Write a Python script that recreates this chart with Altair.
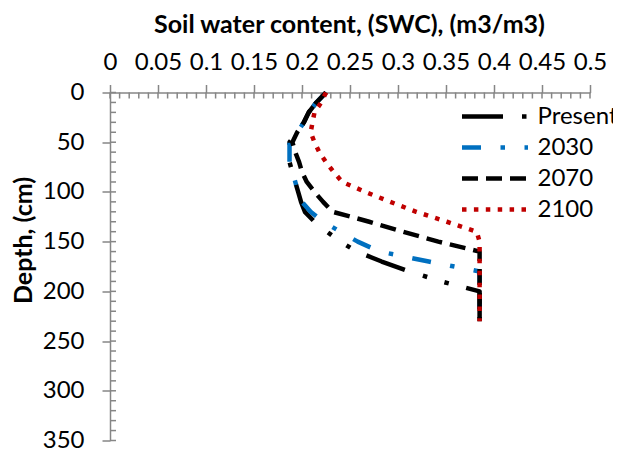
import altair as alt
import pandas as pd

# ---- data ----
depth = [0, 10, 20, 30, 40, 50, 60, 70, 80, 90, 100, 110, 120, 130, 140, 150,
         160, 170, 180, 190, 200, 210, 220, 230]

swc_present = [0.225, 0.215, 0.207, 0.202, 0.195, 0.187, 0.187, 0.187, 0.190, 0.193,
               0.196, 0.199, 0.203, 0.213, 0.226, 0.240, 0.257, 0.283, 0.312, 0.345,
               0.385, 0.385, 0.385, 0.385]
swc_2030 = [0.225, 0.215, 0.207, 0.202, 0.195, 0.187, 0.187, 0.187, 0.190, 0.193,
            0.196, 0.200, 0.209, 0.222, 0.240, 0.258, 0.281, 0.332, 0.385, 0.385,
            0.385, 0.385, 0.385, 0.385]
swc_2070 = [0.225, 0.215, 0.207, 0.202, 0.195, 0.190, 0.193, 0.197, 0.200, 0.205,
            0.213, 0.222, 0.232, 0.270, 0.305, 0.342, 0.385, 0.385, 0.385, 0.385,
            0.385, 0.385, 0.385, 0.385]
swc_2100 = [0.225, 0.220, 0.213, 0.211, 0.209, 0.213, 0.218, 0.225, 0.233, 0.242,
            0.266, 0.292, 0.319, 0.351, 0.382, 0.385, 0.385, 0.385, 0.385, 0.385,
            0.385, 0.385, 0.385, 0.385]

series_names = ["Present", "2030", "2070", "2100"]
series_values = [swc_present, swc_2030, swc_2070, swc_2100]
series_colors = ["#000000", "#0070C0", "#000000", "#C00000"]
series_dashes = [[41, 19, 4.5, 18, 4.5, 18], [19, 19.5, 4.5, 19.5], [16, 8], [4.5, 7.4]]

x_ticks = [0, 0.05, 0.1, 0.15, 0.2, 0.25, 0.3, 0.35, 0.4, 0.45, 0.5]
y_ticks = [0, 50, 100, 150, 200, 250, 300, 350]
x_minor = [round(i * 0.01, 2) for i in range(0, 51)]
y_minor = list(range(0, 351, 10))

rows = []
for name, vals in zip(series_names, series_values):
    for d, v in zip(depth, vals):
        rows.append({"series": name, "depth": d, "swc": v})
df = pd.DataFrame(rows)

FONT = "Lato"

xscale = alt.Scale(domain=[0, 0.5], nice=False, zero=False)
yscale = alt.Scale(domain=[0, 350], nice=False, zero=False, reverse=True)

legend = alt.Legend(
    orient="none", legendX=349.5, legendY=12, title=None,
    symbolType="stroke", symbolSize=4356, symbolStrokeWidth=4.5,
    clipHeight=24, rowPadding=7, labelOffset=7, padding=0,
    labelFont=FONT, labelFontSize=24, labelColor="#000000",
)

xaxis = alt.Axis(
    orient="top", values=x_ticks, format="~g", grid=False,
    title="Soil water content, (SWC), (m3/m3)",
    titleX=239, titleY=-60.5, titleAlign="center", titleBaseline="alphabetic",
    titleFont=FONT, titleFontSize=25, titleFontWeight="bold", titleColor="#000000",
    labelFont=FONT, labelFontSize=24, labelColor="#000000", labelPadding=15,
    labelBaseline="alphabetic",
    tickSize=8, labelFlush=False, labelOverlap=False,
)
yaxis = alt.Axis(
    orient="left", values=y_ticks, grid=False,
    title="Depth, (cm)",
    titleX=-87, titleY=147.5, titleAlign="center", titleBaseline="middle", titleAngle=270,
    titleFont=FONT, titleFontSize=25, titleFontWeight="bold", titleColor="#000000",
    labelFont=FONT, labelFontSize=24, labelColor="#000000", labelPadding=18,
    tickSize=8, labelFlush=False, labelOverlap=False,
)

base = alt.Chart(df)
layers = []
for name in series_names:
    layers.append(
        base.transform_filter(alt.datum.series == name)
        .mark_line(strokeWidth=4.5, strokeCap="butt", strokeJoin="round")
        .encode(
            x=alt.X("swc:Q", scale=xscale, axis=xaxis),
            y=alt.Y("depth:Q", scale=yscale, axis=yaxis),
            color=alt.Color("series:N", scale=alt.Scale(domain=series_names, range=series_colors), legend=legend),
            strokeDash=alt.StrokeDash("series:N", scale=alt.Scale(domain=series_names, range=series_dashes), legend=legend),
            order=alt.Order("depth:Q"),
        )
    )

xminor_df = pd.DataFrame({"swc": x_minor})
yminor_df = pd.DataFrame({"depth": y_minor})
xminor = alt.Chart(xminor_df).mark_rule(color="#868686", strokeWidth=1.5).encode(
    x=alt.X("swc:Q", scale=xscale, axis=xaxis), y=alt.value(0), y2=alt.value(6))
yminor = alt.Chart(yminor_df).mark_rule(color="#868686", strokeWidth=1.5).encode(
    y=alt.Y("depth:Q", scale=yscale, axis=yaxis), x=alt.value(0), x2=alt.value(6))

chart = alt.layer(xminor, yminor, *layers).properties(
    width=480, height=348,
    padding={"left": 102, "top": 84.5, "right": 23, "bottom": 11.5},
    autosize=alt.AutoSizeParams(type="none"),
    background="white",
).configure_view(stroke=None).configure_axis(
    domainColor="#868686", domainWidth=1.5, tickColor="#868686", tickWidth=1.5,
)

chart.save("out.html", embed_options={"renderer": "svg", "actions": False})
